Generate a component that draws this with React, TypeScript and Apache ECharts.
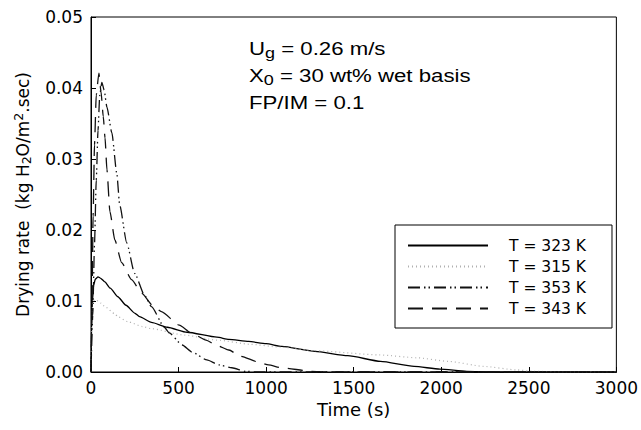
import React, { useEffect, useRef } from "react";
import * as echarts from "echarts";

const FONT = '"Liberation Sans", Arial, Helvetica, sans-serif';
const AXFONT = '"DejaVu Sans", "Liberation Sans", Arial, sans-serif';

const X_TICKS = [0, 500, 1000, 1500, 2000, 2500, 3000];
const Y_TICKS = [0, 0.01, 0.02, 0.03, 0.04, 0.05];

const NAMES = ["T = 323 K", "T = 315 K", "T = 353 K", "T = 343 K"];

const T323 = [0, 3, 8, 15, 25, 40, 55, 79, 110, 153, 200, 249, 277, 345, 436, 549, 719, 787, 900, 1000, 1090, 1279, 1466, 1653, 1845, 1992, 2145, 2300, 3000];
const R323 = [0, 0.006, 0.010, 0.0122, 0.0131, 0.0134, 0.0132, 0.0127, 0.0118, 0.0106, 0.0094, 0.0083, 0.0078, 0.0070, 0.0063, 0.0056, 0.0049, 0.0046, 0.0043, 0.0040, 0.0036, 0.0029, 0.0023, 0.0015, 0.0008, 0.0004, 0.0001, 0, 0];

const T315 = [0, 4, 10, 25, 57, 79, 136, 153, 209, 294, 345, 532, 719, 911, 1081, 1279, 1650, 1862, 2040, 2241, 2428, 2524, 2700, 3000];
const R315 = [0, 0.006, 0.0100, 0.0102, 0.0097, 0.0092, 0.0082, 0.0078, 0.0071, 0.0064, 0.0061, 0.0052, 0.0045, 0.0039, 0.0035, 0.0030, 0.0024, 0.0020, 0.0015, 0.0008, 0.0003, 0.0001, 0, 0];

const T353 = [0, 10, 20, 30, 40, 50, 62, 75, 91, 119, 147, 164, 204, 249, 306, 345, 419, 447, 521, 577, 662, 730, 804, 883, 950, 3000];
const R353 = [0, 0.008, 0.018, 0.027, 0.034, 0.039, 0.0408, 0.0397, 0.0373, 0.0337, 0.0280, 0.0235, 0.0182, 0.0139, 0.0108, 0.0092, 0.0063, 0.0055, 0.0038, 0.0028, 0.0017, 0.0010, 0.0006, 0.0001, 0, 0];

const T343 = [0, 6, 12, 20, 30, 45, 57, 70, 80, 91, 108, 136, 175, 232, 289, 351, 402, 504, 572, 657, 713, 787, 855, 957, 1013, 1087, 1257, 1350, 3000];
const R343 = [0, 0.010, 0.022, 0.032, 0.039, 0.0421, 0.0395, 0.036, 0.033, 0.0285, 0.0226, 0.0186, 0.0154, 0.0130, 0.0111, 0.0094, 0.0085, 0.0066, 0.0055, 0.0045, 0.0038, 0.0031, 0.0022, 0.0014, 0.0010, 0.0006, 0.0001, 0, 0];

const pairs = (t: number[], r: number[]) => t.map((v, i) => [v, r[i]]);

export default function App() {
  const ref = useRef<HTMLDivElement>(null);
  useEffect(() => {
    if (!ref.current) return;
    const chart = echarts.init(ref.current, null, { renderer: "svg" });
    const mk = (name: string, t: number[], r: number[], color: string, type: any, width: number) => ({
      name,
      type: "line",
      data: pairs(t, r),
      symbol: "none",
      showSymbol: false,
      smooth: 0.2,
      smoothMonotone: "x",
      color,
      lineStyle: { color, type, width },
      emphasis: { disabled: true },
      silent: true,
    });
    const rich1 = {
      a: { fontFamily: FONT, fontSize: 18.5, fill: "#000", lineHeight: 22 },
      b: { fontFamily: FONT, fontSize: 15, fill: "#000", padding: [9, 0, 0, 0], lineHeight: 15 },
    };
    chart.setOption({
      animation: false,
      backgroundColor: "#fff",
      grid: { left: 91, right: 20, top: 17, bottom: 58, show: true, borderColor: "#000", borderWidth: 1, backgroundColor: "transparent" },
      xAxis: {
        type: "value",
        min: X_TICKS[0],
        max: X_TICKS[X_TICKS.length - 1],
        interval: 500,
        name: "Time (s)",
        nameLocation: "middle",
        nameGap: 28,
        nameTextStyle: { fontFamily: AXFONT, fontSize: 18, color: "#000" },
        axisLine: { lineStyle: { color: "#000", width: 1 } },
        axisTick: { inside: true, length: 5, lineStyle: { color: "#000" } },
        axisLabel: { fontFamily: AXFONT, fontSize: 17, color: "#000", margin: 7, formatter: (v: number) => String(v) },
        splitLine: { show: false },
      },
      yAxis: {
        type: "value",
        min: Y_TICKS[0],
        max: Y_TICKS[Y_TICKS.length - 1],
        interval: 0.01,
        name: "Drying rate  (kg H{sub|2}O/m{sup|2}.sec)",
        nameLocation: "middle",
        nameGap: 58,
        nameTextStyle: {
          fontFamily: AXFONT,
          fontSize: 17,
          color: "#000",
          rich: {
            sub: { fontFamily: AXFONT, fontSize: 12.5, color: "#000", padding: [8, 0, 0, 0] },
            sup: { fontFamily: AXFONT, fontSize: 12.5, color: "#000", padding: [0, 0, 8, 0] },
          },
        },
        axisLine: { show: true, lineStyle: { color: "#000", width: 1 } },
        axisTick: { show: true, inside: true, length: 5, lineStyle: { color: "#000" } },
        axisLabel: { fontFamily: AXFONT, fontSize: 17, color: "#000", margin: 8, formatter: (v: number) => v.toFixed(2) },
        splitLine: { show: false },
      },
      legend: {
        data: NAMES,
        orient: "vertical",
        left: 395,
        top: 225,
        itemWidth: 80,
        itemHeight: 14,
        itemGap: 4,
        padding: [12, 26, 11, 12],
        borderColor: "#000",
        borderWidth: 1,
        backgroundColor: "#fff",
        selectedMode: false,
        itemStyle: { opacity: 0 },
        textStyle: { fontFamily: AXFONT, fontSize: 15.5, lineHeight: 17, color: "#000", padding: [0, 0, 0, 16] },
      },
      graphic: [
        {
          type: "text", left: 249, top: 37, silent: true, scaleX: 1.2,
          style: { text: "{a|U}{b|g}{a| = 0.26 m/s}", rich: rich1 },
        },
        {
          type: "text", left: 249, top: 64, silent: true, scaleX: 1.2,
          style: { text: "{a|X}{b|0}{a| = 30 wt% wet basis}", rich: rich1 },
        },
        {
          type: "text", left: 249, top: 92, silent: true, scaleX: 1.2,
          style: { text: "FP/IM = 0.1", fontFamily: FONT, fontSize: 18.5, fill: "#000", lineHeight: 22 },
        },
      ],
      series: [
        mk(NAMES[0], T323, R323, "#000", "solid", 1.3),
        mk(NAMES[1], T315, R315, "#b0b0b0", [1, 3], 1.2),
        mk(NAMES[2], T353, R353, "#111", [12, 4, 1.5, 3, 1.5, 4], 1.3),
        mk(NAMES[3], T343, R343, "#111", [15, 9], 1.3),
      ],
    });
    return () => chart.dispose();
  }, []);
  return <div ref={ref} style={{ position: "fixed", left: 0, top: 0, width: 641, height: 430 }} />;
}
